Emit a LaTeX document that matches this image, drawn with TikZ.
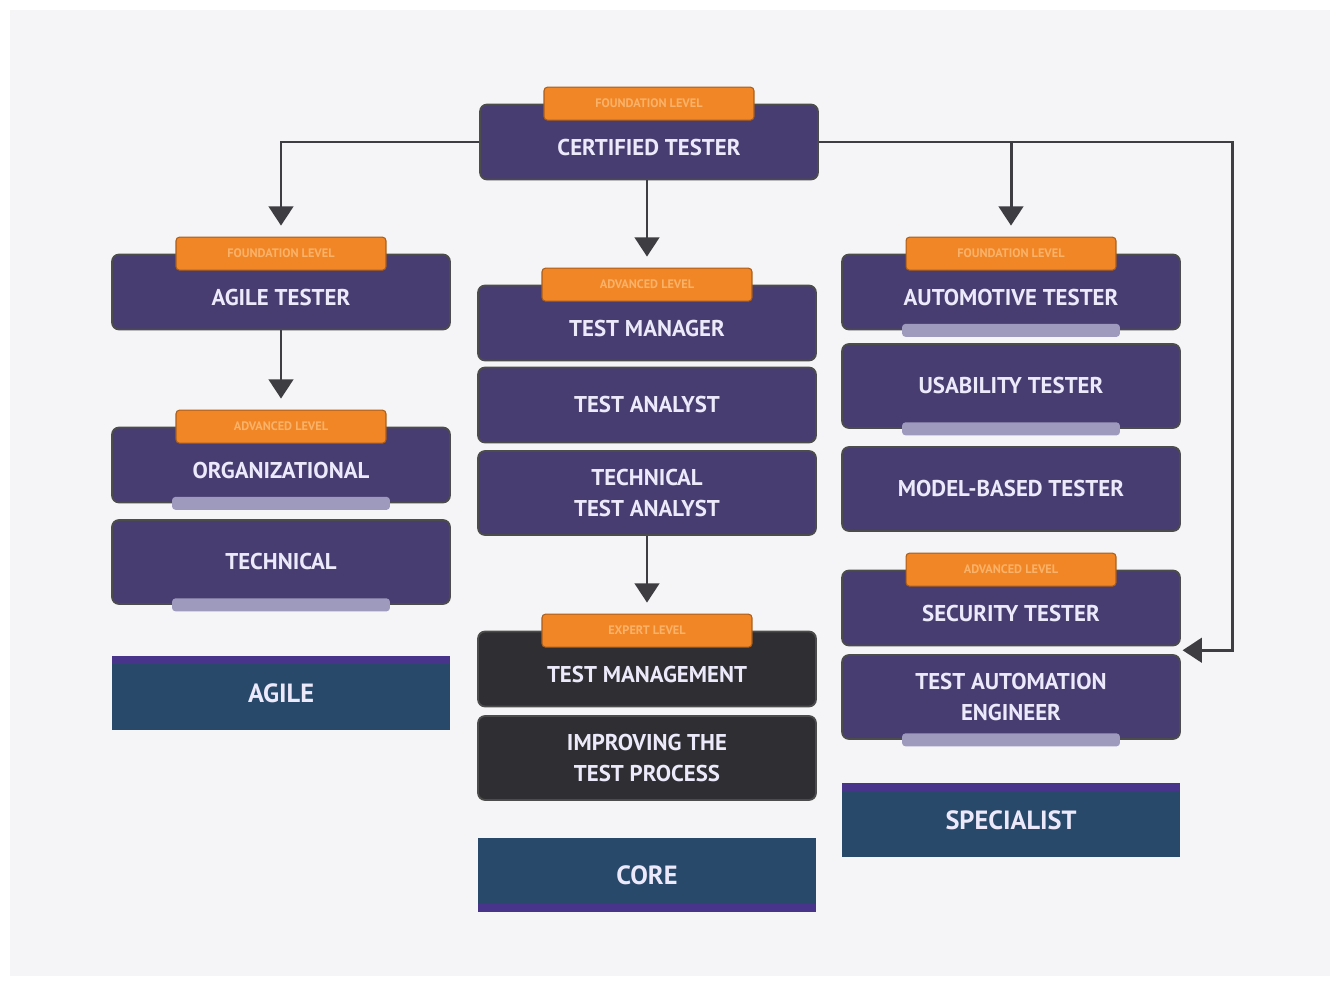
\documentclass[tikz,border=0pt]{standalone}
\usepackage{fontspec}
\setmainfont{PT Sans}
\usetikzlibrary{arrows.meta, calc, positioning}

\definecolor{rolepurple}{RGB}{72, 61, 112}
\definecolor{roledark}{RGB}{47, 46, 50}
\definecolor{levelteal}{RGB}{40, 73, 106}
\definecolor{levelstrip}{RGB}{73, 52, 140}
\definecolor{tagorange}{RGB}{241, 134, 38}
\definecolor{tagtext}{RGB}{250, 178, 105}
\definecolor{barlilac}{RGB}{158, 154, 190}
\definecolor{linkgray}{RGB}{62, 62, 66}
\definecolor{rolefont}{RGB}{236, 233, 250}
\definecolor{pagebg}{RGB}{245, 245, 247}

\tikzset{
  role/.style={draw=black!70, line width=1pt, rounded corners=4pt, fill=rolepurple, text=rolefont,
    font=\bfseries\fontsize{13}{18}\selectfont, minimum width=6.76cm, minimum height=1.5cm,
    align=center, inner sep=0pt},
  tall/.style={minimum height=1.68cm},
  tagged/.style={text height=15pt, text depth=0pt},
  expert/.style={fill=roledark},
  level/.style={role, draw=none, sharp corners, fill=levelteal, font=\bfseries\fontsize{15}{17}\selectfont,
    path picture={\fill[levelstrip] (path picture bounding box.north west) rectangle ([yshift=-0.17cm]path picture bounding box.north east);}},
  core/.style={path picture={\fill[levelstrip] (path picture bounding box.south west) rectangle ([yshift=0.17cm]path picture bounding box.south east);}},
  tag/.style={rounded corners=2pt, fill=tagorange, draw=tagorange!70!black, line width=0.6pt, text=tagtext,
    font=\bfseries\fontsize{7}{8}\selectfont, minimum width=4.2cm, minimum height=0.66cm, inner sep=0pt},
  bar/.style={rounded corners=2pt, fill=barlilac, minimum width=4.36cm, minimum height=0.26cm, inner sep=0pt},
  link/.style={draw=linkgray, line width=1.7pt, -{Triangle[width=14pt,length=11pt]}, shorten >=0.22cm},
}

\begin{document}
\begin{tikzpicture}[x=0.02cm, y=-0.02cm]
  \useasboundingbox (0,0) rectangle (1340,986);
  \fill[white] (0,0) rectangle (1340,986);
  \fill[pagebg] (10,10) rectangle (1330,976);

  % Foundation root
  \node[role, tagged] (cert) at (649,142) {CERTIFIED TESTER};
  \node[tag] (certtag) at (cert.north) {FOUNDATION LEVEL};

  % Agile column
  \node[role, tagged] (agile) at (281,292) {AGILE TESTER};
  \node[tag] (agiletag) at (agile.north) {FOUNDATION LEVEL};
  \node[role, tagged] (org) at (281,465) {ORGANIZATIONAL};
  \node[tag] (orgtag) at (org.north) {ADVANCED LEVEL};
  \node[bar] (orgbar) at (org.south) {};
  \node[role, tall] (tech) at (281,562) {TECHNICAL};
  \node[bar] (techbar) at (tech.south) {};
  \node[level] (agilelvl) at (281,693) {AGILE};

  % Core column
  \node[role, tagged] (tm) at (647,323) {TEST MANAGER};
  \node[tag] (tmtag) at (tm.north) {ADVANCED LEVEL};
  \node[role] (ta) at (647,405) {TEST ANALYST};
  \node[role, tall] (tta) at (647,493) {TECHNICAL\\TEST ANALYST};
  \node[role, expert, tagged] (tmg) at (647,669) {TEST MANAGEMENT};
  \node[tag] (tmgtag) at (tmg.north) {EXPERT LEVEL};
  \node[role, expert, tall] (itp) at (647,758) {IMPROVING THE\\TEST PROCESS};
  \node[level, core] (corelvl) at (647,875) {CORE};

  % Specialist column
  \node[role, tagged] (auto) at (1011,292) {AUTOMOTIVE TESTER};
  \node[tag] (autotag) at (auto.north) {FOUNDATION LEVEL};
  \node[bar] (autobar) at (auto.south) {};
  \node[role, tall] (usab) at (1011,386) {USABILITY TESTER};
  \node[bar] (usabbar) at (usab.south) {};
  \node[role, tall] (mbt) at (1011,489) {MODEL-BASED TESTER};
  \node[role, tagged] (sec) at (1011,608) {SECURITY TESTER};
  \node[tag] (sectag) at (sec.north) {ADVANCED LEVEL};
  \node[role, tall] (tae) at (1011,697) {TEST AUTOMATION\\ENGINEER};
  \node[bar] (taebar) at (tae.south) {};
  \node[level] (speclvl) at (1011,820) {SPECIALIST};
  \coordinate (secgap) at ($(sec.south east)!0.5!(tae.north east)$);

  % Links
  \draw[link] (cert.west) -| (agiletag.north);
  \draw[link] (cert.south -| tmtag.north) -- (tmtag.north);
  \draw[link, shorten >=1pt] (cert.east) -| ($(secgap)+(52,0)$) -- (secgap);
  \draw[link] (cert.east -| autotag.north) -- (autotag.north);
  \draw[link] (agile.south) -- (orgtag.north);
  \draw[link] (tta.south) -- (tmgtag.north);
\end{tikzpicture}
\end{document}
